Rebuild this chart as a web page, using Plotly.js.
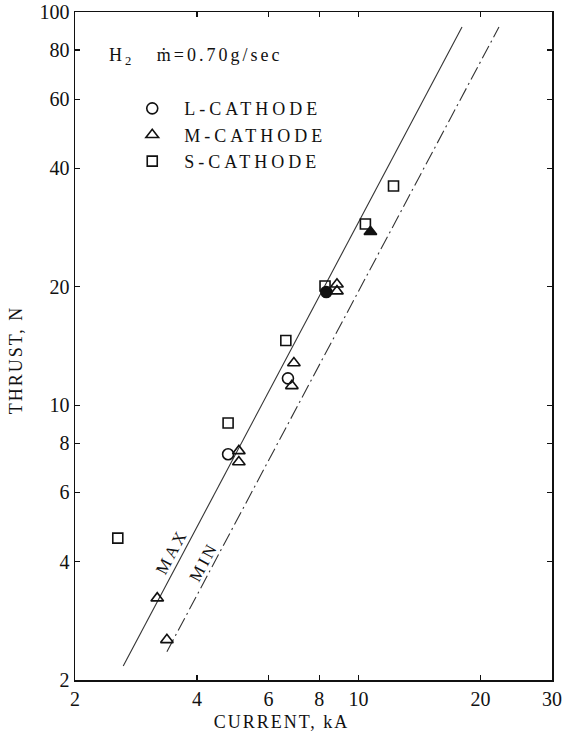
<!DOCTYPE html>
<html>
<head>
<meta charset="utf-8">
<script src="https://cdn.plot.ly/plotly-3.0.1.min.js"></script>
<style>
  html, body { margin: 0; padding: 0; background: #fff; }
  #chart { width: 570px; height: 733px; }
  #chart .legendtext { letter-spacing: 4px; }
  #chart .xtitle, #chart .ytitle { letter-spacing: 2px; }
  #chart .annotation-text { letter-spacing: 3px; }
</style>
</head>
<body>
<div id="chart"></div>
<script>
// ---- Data ----
// L-CATHODE (circles); last point drawn filled
const lCurrent = [4.77, 6.70, 8.33];
const lThrust  = [7.5, 11.7, 19.4];
const lFilled  = [false, false, true];

// M-CATHODE (triangles); last point drawn filled
const mCurrent = [3.19, 3.37, 5.07, 5.07, 6.85, 6.93, 8.85, 8.85, 10.7];
const mThrust  = [3.23, 2.53, 7.65, 7.17, 11.2, 12.8, 20.3, 19.5, 27.6];
const mFilled  = [false, false, false, false, false, false, false, false, true];

// S-CATHODE (squares)
const sCurrent = [2.55, 4.77, 6.62, 8.27, 10.4, 12.2];
const sThrust  = [4.59, 9.01, 14.6, 20.1, 28.9, 36.1];
const sFilled  = [false, false, false, false, false, false];

// MAX and MIN lines (end points)
const maxCurrent = [2.63, 18.0];
const maxThrust  = [2.17, 91.6];
const minCurrent = [3.37, 22.2];
const minThrust  = [2.36, 91.6];

// Axis ticks
const xTicks = [2, 4, 6, 8, 10, 20, 30];
const yTicks = [2, 4, 6, 8, 10, 20, 40, 60, 80, 100];

const seriesNames = ['L-CATHODE', 'M-CATHODE', 'S-CATHODE'];

// ---- Plot ----
const FONT = 'Liberation Serif, Times New Roman, serif';
const INK = '#111';

function symbols(base, filled) {
  return filled.map(f => f ? base : base + '-open');
}

const traces = [
  {
    x: maxCurrent, y: maxThrust, mode: 'lines', showlegend: false,
    line: { color: '#333', width: 1.1 }, hoverinfo: 'skip'
  },
  {
    x: minCurrent, y: minThrust, mode: 'lines', showlegend: false,
    line: { color: '#333', width: 1.1, dash: '14px,4px,2px,4px' }, hoverinfo: 'skip'
  },
  {
    name: seriesNames[0], x: lCurrent, y: lThrust, mode: 'markers',
    marker: { symbol: symbols('circle', lFilled), size: 11, color: INK, line: { color: INK, width: 1.6 } }
  },
  {
    name: seriesNames[1], x: mCurrent, y: mThrust, mode: 'markers',
    marker: { symbol: symbols('triangle-up', mFilled), size: 11, color: INK, line: { color: INK, width: 1.6 } }
  },
  {
    name: seriesNames[2], x: sCurrent, y: sThrust, mode: 'markers',
    marker: { symbol: symbols('square', sFilled), size: 10, color: INK, line: { color: INK, width: 1.6 } }
  }
];

const axisCommon = {
  type: 'log',
  showgrid: false,
  zeroline: false,
  showline: true,
  linecolor: INK,
  linewidth: 1.5,
  mirror: 'ticks',
  ticks: 'inside',
  ticklen: 5,
  tickwidth: 1.3,
  tickcolor: INK,
  tickmode: 'array',
  tickfont: { family: FONT, size: 20, color: INK }
};

const layout = {
  width: 570,
  height: 733,
  margin: { l: 75, r: 18, t: 12, b: 53 },
  paper_bgcolor: '#fff',
  plot_bgcolor: '#fff',
  font: { family: FONT, color: INK },
  xaxis: Object.assign({}, axisCommon, {
    range: [Math.log10(2), Math.log10(30)],
    tickvals: xTicks,
    ticktext: xTicks.map(String),
    title: { text: 'CURRENT, kA', font: { family: FONT, size: 18, color: INK }, standoff: 2 }
  }),
  yaxis: Object.assign({}, axisCommon, {
    range: [Math.log10(2), 2],
    tickvals: yTicks,
    ticktext: yTicks.map(String),
    title: { text: 'THRUST, N', font: { family: FONT, size: 18, color: INK }, standoff: 12 }
  }),
  showlegend: true,
  legend: {
    x: 0.12, xanchor: 'left',
    y: 0.883, yanchor: 'top',
    bgcolor: 'rgba(0,0,0,0)',
    font: { family: FONT, size: 18, color: INK },
    tracegroupgap: 0
  },
  annotations: [
    {
      xref: 'paper', yref: 'paper', x: 0.118, y: 0.933, xanchor: 'left', yanchor: 'middle',
      text: 'H<sub>2</sub>\u00A0\u00A0\u00A0ṁ=0.70g/sec', showarrow: false,
      font: { family: FONT, size: 18, color: INK }
    },
    {
      xref: 'x', yref: 'y', x: Math.log10(3.47), y: Math.log10(4.24),
      text: 'MAX', showarrow: false, textangle: -62,
      font: { family: FONT, size: 17, color: INK }
    },
    {
      xref: 'x', yref: 'y', x: Math.log10(4.14), y: Math.log10(3.99),
      text: 'MIN', showarrow: false, textangle: -62,
      font: { family: FONT, size: 17, color: INK }
    }
  ]
};

Plotly.newPlot('chart', traces, layout, { displayModeBar: false, staticPlot: true }).then(gd => {
  // Match the reference's placement of the axis titles and legend labels
  const xt = gd.querySelector('.g-xtitle');
  if (xt) xt.setAttribute('transform', 'translate(-32,5)');
  const yt = gd.querySelector('.g-ytitle');
  if (yt) yt.setAttribute('transform', 'translate(0,14)');
  gd.querySelectorAll('.legend .scrollbox, .legend').forEach(el => el.removeAttribute('clip-path'));
  gd.querySelectorAll('.legend [clip-path]').forEach(el => el.removeAttribute('clip-path'));
  gd.querySelectorAll('.legendtext').forEach(t => {
    const x0 = parseFloat(t.getAttribute('x')) || 40;
    t.setAttribute('x', x0 + 12);
  });
});
</script>
</body>
</html>
